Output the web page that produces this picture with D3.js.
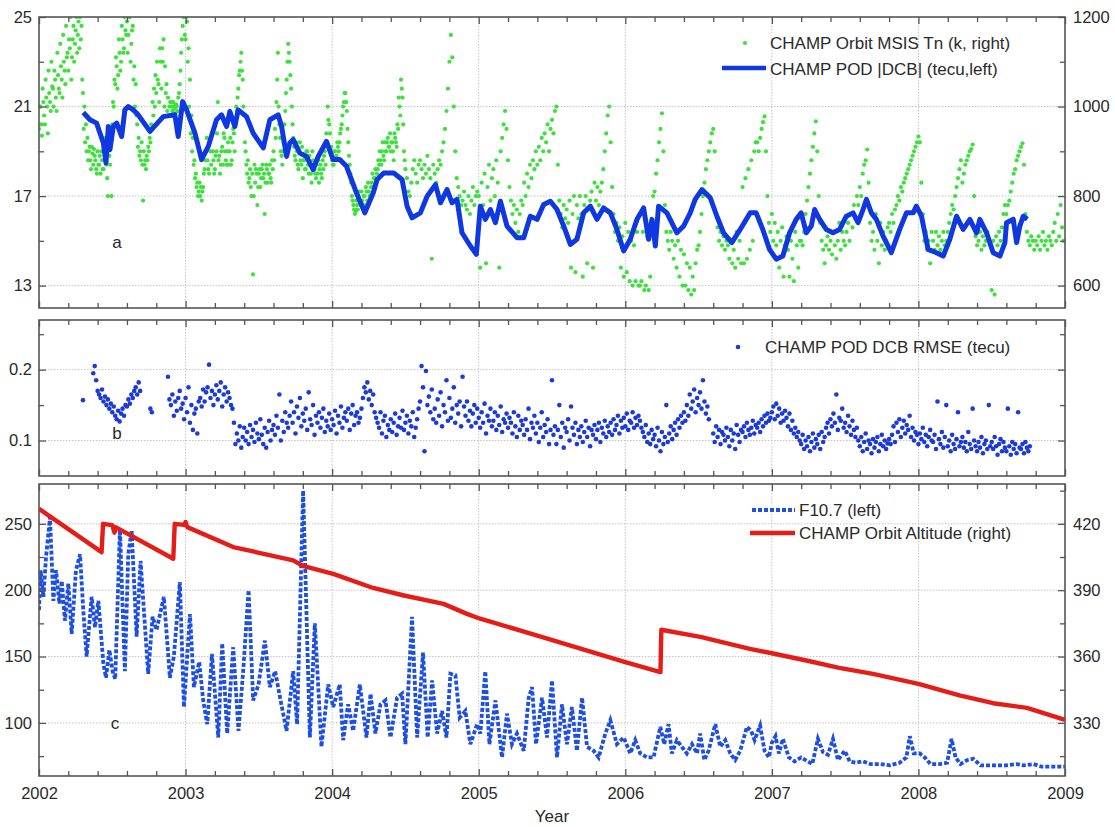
<!DOCTYPE html>
<html><head><meta charset="utf-8">
<script src="https://cdn.jsdelivr.net/npm/d3@7"></script>
<style>
body{margin:0;background:#fff;}
svg{display:block;}
text{font-family:"Liberation Sans",Arial,Helvetica,sans-serif;fill:#2a2a2a;}
</style>
</head><body>
<svg id="chart" width="1115" height="827"></svg>
<script>
// ---------------- DATA ----------------
const yearTicks = [2002, 2003, 2004, 2005, 2006, 2007, 2008, 2009];

// Panel a: CHAMP POD |DCB| (tecu, left axis) [year, value]
const dcb = [
[2002.302,20.73],[2002.348,20.41],[2002.393,20.26],[2002.416,19.81],[2002.439,19.37],[2002.457,18.48],
[2002.473,20.11],[2002.484,19.07],[2002.507,20.11],[2002.530,20.26],[2002.564,19.66],[2002.586,20.85],
[2002.609,21.0],[2002.643,20.85],[2002.677,20.63],[2002.757,19.89],[2002.848,20.55],[2002.927,20.63],
[2002.950,19.66],[2002.980,21.22],[2003.007,20.85],[2003.064,19.81],[2003.109,18.63],[2003.155,19.22],
[2003.211,20.41],[2003.245,20.63],[2003.280,20.11],[2003.302,20.78],[2003.336,20.11],[2003.359,20.85],
[2003.416,20.55],[2003.461,19.81],[2003.530,19.15],[2003.575,20.41],[2003.632,20.63],[2003.655,20.11],
[2003.689,18.77],[2003.711,19.37],[2003.734,19.52],[2003.780,18.92],[2003.825,18.77],[2003.870,18.18],
[2003.905,18.77],[2003.961,19.44],[2004.007,18.63],[2004.052,18.63],[2004.098,18.33],[2004.166,17.14],
[2004.223,16.25],[2004.280,17.14],[2004.307,17.74],[2004.352,18.03],[2004.420,18.03],[2004.477,17.74],
[2004.511,16.55],[2004.545,16.03],[2004.602,16.25],[2004.648,16.99],[2004.705,17.51],[2004.739,16.70],
[2004.784,17.29],[2004.818,16.70],[2004.852,16.85],[2004.886,15.36],[2004.943,14.77],[2004.984,14.40],
[2005.011,16.55],[2005.045,15.96],[2005.080,16.40],[2005.114,15.81],[2005.148,16.77],[2005.193,15.66],
[2005.261,15.14],[2005.307,15.14],[2005.352,16.10],[2005.398,15.96],[2005.443,16.62],[2005.489,16.77],
[2005.534,16.40],[2005.580,15.66],[2005.625,14.84],[2005.670,15.07],[2005.716,16.25],[2005.761,16.55],
[2005.807,15.96],[2005.852,16.47],[2005.898,16.25],[2005.943,15.51],[2005.989,14.55],[2006.034,15.07],
[2006.080,15.96],[2006.125,16.47],[2006.159,15.07],[2006.182,15.96],[2006.205,14.77],[2006.227,16.55],
[2006.284,16.25],[2006.352,15.36],[2006.398,15.66],[2006.443,16.25],[2006.477,16.85],[2006.523,17.29],
[2006.580,16.92],[2006.625,16.10],[2006.670,15.36],[2006.727,14.92],[2006.784,15.51],[2006.852,16.25],
[2006.893,16.25],[2006.938,15.51],[2006.984,14.62],[2007.030,14.18],[2007.075,14.32],[2007.121,15.36],
[2007.166,15.96],[2007.200,16.25],[2007.235,15.36],[2007.269,15.66],[2007.292,16.40],[2007.326,15.96],
[2007.371,15.51],[2007.417,15.36],[2007.462,15.51],[2007.508,16.10],[2007.554,16.25],[2007.588,15.81],
[2007.622,16.40],[2007.645,16.85],[2007.679,16.25],[2007.713,15.96],[2007.759,15.21],[2007.815,14.47],
[2007.872,15.51],[2007.918,16.25],[2007.964,16.25],[2007.986,16.55],[2008.021,16.10],[2008.066,14.62],
[2008.123,14.47],[2008.169,14.32],[2008.214,15.07],[2008.260,16.10],[2008.305,15.51],[2008.351,15.96],
[2008.396,15.36],[2008.419,15.96],[2008.465,15.36],[2008.510,14.47],[2008.556,14.32],[2008.590,14.92],
[2008.601,15.81],[2008.647,15.96],[2008.670,14.92],[2008.692,15.66],[2008.715,16.10],[2008.743,15.96]
];

// Panel a: CHAMP orbit MSIS Tn (K, right axis), one value every 0.01 year from 2002.00
const tnStart = 2002.0, tnStep = 0.01;
const tnK = [
950,1000,935,1010,960,1020,940,1030,990,1045, 1000,1060,990,1070,1030,1090,1020,1100,1050,1110,
1080,1130,1060,1150,1100,1170,1120,1190,1200,1180, 1030,1000,960,930,900,880,910,870,890,860,
900,870,850,880,860,900,870,800,890,920, 960,1000,1050,1090,1070,1120,1100,1150,1130,1170,
1190,1160,1200,1140,1180,1090,1050,960,930,900, 920,790,870,860,880,900,920,950,980,1000,
1030,1060,1010,1100,1130,1150,1090,1050,1020,1000, 1010,990,1000,985,1000,1020,1050,1120,1180,1200,
1150,1190,1130,1060,980,930,880,850,830,810, 800,790,820,860,900,880,850,900,940,880,
860,900,1010,890,870,910,940,900,870,920, 900,870,920,940,960,990,1040,1080,1120,1060,
980,900,850,830,860,800,625,870,860,780, 850,820,860,840,760,870,830,850,840,880,
900,950,1010,1120,960,900,870,920,990,1060, 1140,1100,1040,960,910,880,900,860,920,870,
840,880,860,900,850,870,830,880,860,840, 850,830,870,840,860,900,940,1000,960,900,
880,870,900,890,910,920,950,980,1010,1030, 990,920,870,830,790,770,765,780,800,790,
810,780,800,820,790,810,800,830,820,840, 830,860,870,880,900,890,920,900,930,910,
900,920,880,930,910,950,1000,1060,1020,900, 860,840,810,800,830,860,880,850,830,870,
880,860,840,870,850,890,860,840,660,870, 850,830,860,880,870,900,920,950,990,1040,
1100,1160,1110,1000,900,840,820,800,780,790, 810,780,770,800,760,790,820,780,800,810,
800,640,830,780,850,650,820,870,790,840, 860,800,880,830,640,900,930,960,990,950,
880,820,790,760,780,740,770,720,760,790, 780,830,800,850,820,870,840,880,860,900,
870,910,880,930,900,940,920,960,900,950, 970,940,990,1000,870,790,760,730,780,750,
770,740,790,640,760,800,630,780,750,800, 760,620,780,800,650,770,790,810,640,830,
790,820,780,810,830,860,900,940,980,1000, 920,820,760,720,740,700,730,640,710,620,
740,630,720,610,700,600,690,610,720,600, 600,610,720,590,600,710,590,620,740,800,
810,850,880,920,950,985,900,780,720,700, 680,720,700,660,690,640,700,620,680,600,
670,600,650,590,640,580,620,590,650,680, 690,720,760,800,830,860,880,900,920,940,
950,900,760,730,700,720,690,710,680,700, 690,660,700,650,680,640,720,660,700,650,
820,650,840,660,860,680,880,700,900,920, 920,900,930,950,965,978,900,800,740,720,
760,700,740,690,720,640,700,730,620,690, 710,680,620,700,660,610,720,690,640,700,
700,690,720,760,790,820,850,880,910,940, 967,900,800,740,700,680,650,690,710,680,
700,670,720,690,660,700,740,680,720,700, 690,720,740,700,760,730,780,750,800,780,
820,800,850,870,880,904,830,740,700,720, 680,760,700,650,740,690,720,680,700,730,
740,720,760,740,770,780,800,790,820,810, 830,840,850,860,870,880,890,900,910,920,
933,920,830,760,700,720,680,700,650,720, 700,680,720,690,710,680,700,720,690,700,
720,740,760,780,770,800,820,840,860,880, 830,850,870,880,890,900,905,915,800,710,
690,700,720,680,710,690,700,720,700,690, 590,700,580,710,690,720,700,730,760,780,
760,780,790,810,830,850,860,880,890,900, 910,918,870,760,720,700,690,710,700,680,
700,690,710,680,700,720,690,700,680,710, 700,690,720,740,700,760,710,780,730,700
];

// Panel a: second, denser set of MSIS Tn readings (K) in the busy 2002-2004.5 cloud, every 0.01 year from 2002.005
const tn2Start = 2002.005, tn2Step = 0.01;
const tnK2 = [
1000,960,1040,980,1060,1000,1080,1010,1100,1040, 1080,1020,1120,1040,1140,1060,1160,1080,1180,1120,
1150,1200,1110,1180,1140,1200,1160,1130,1150,1060, 950,920,900,880,910,860,895,905,880,850,
870,890,900,860,930,880,840,910,870,800, 1010,1060,1110,1040,1150,1080,1180,1120,1200,1160,
1120,1200,1100,1170,1060,1000,980,910,890,880, 870,900,880,890,910,930,960,1010,1040,1070,
1100,1050,1130,1040,1100,1000,1030,990,980,1010, 1000,1010,995,1005,990,1030,1080,1150,1200,1160,
1200,1100,1000,940,900,870,840,820,800,830, 820,810,850,880,930,860,920,870,900,850,
890,940,880,850,900,870,930,880,900,870, 930,880,950,900,1000,1020,1070,1100,1080,1000,
920,870,880,840,820,850,800,830,850,820, 860,840,870,850,830,860,850,870,830,860,
880,930,1060,1000,930,890,900,960,1030,1100, 1120,1070,1000,930,890,920,870,900,880,910,
880,860,900,870,890,850,900,870,850,870, 880,860,850,880,890,870,920,970,940,910,
870,900,880,920,900,940,960,1000,1030,1010, 950,890,850,800,780,760,790,770,810,780,
790,800,780,810,830,800,820,850,840,860, 850,880,900,870,920,880,900,920,910,940,
920,900,940,920,960,1020,980,1040,960,880
];

// Panel b: CHAMP POD DCB RMSE (tecu), one value every 0.01 year from 2002.30
const rmseStart = 2002.30, rmseStep = 0.01;
const rmse = [
.157,null,null,null,null,null,null,.195,.205,.185,
.170,.165,.160,.172,.155,.162,.150,.158,.145,.152,
.140,.148,.135,.130,.142,.127,.138,.145,.135,.150,
.148,.158,.152,.165,.160,.170,.175,.165,.182,.170,
null,null,null,null,null,null,.145,.140,null,null,
null,null,null,null,null,null,null,null,.190,.158,
.150,.165,.135,.155,.142,.160,.170,.145,.152,.130,
.160,.140,.175,.125,.150,.115,.138,.145,.110,.155,
.160,.148,.172,.155,.168,.175,.207,.160,.170,.150,
.165,.178,.158,.170,.182,.148,.165,.175,.155,.168,
.160,.150,.145,.125,.095,.110,.100,.120,.090,.105,
.118,.100,.112,.095,.122,.105,.115,.098,.125,.110,
.102,.130,.108,.095,.118,.090,.112,.128,.100,.115,
.122,.108,.135,.118,.165,.100,.128,.112,.140,.125,
.118,.135,.155,.125,.140,.110,.148,.132,.160,.120,
.138,.128,.145,.115,.168,.130,.122,.150,.108,.135,
.125,.140,.118,.132,.145,.112,.128,.120,.138,.115,
.130,.122,.142,.110,.135,.125,.148,.118,.132,.140,
.128,.145,.115,.138,.150,.122,.135,.140,.125,.132,
.145,.160,.175,.168,.182,.158,.170,.150,.165,.140,
.132,.125,.118,.140,.110,.128,.135,.105,.122,.115,
.130,.112,.125,.138,.108,.120,.132,.118,.142,.115,
.125,.135,.110,.128,.120,.140,.105,.118,.130,.145,
.155,.205,.175,.085,.198,.150,.162,.140,.172,.130,
.145,.125,.158,.135,.168,.120,.150,.140,.185,.128,
.160,.132,.145,.175,.125,.150,.138,.155,.120,.190,
.148,.135,.155,.128,.142,.120,.138,.150,.125,.145,
.132,.118,.140,.125,.152,.110,.135,.128,.145,.120,
.128,.140,.115,.135,.122,.148,.112,.130,.125,.138,
.118,.132,.125,.110,.140,.120,.105,.135,.115,.128,
.122,.108,.130,.115,.145,.102,.125,.118,.135,.110,
.125,.098,.118,.140,.105,.122,.112,.130,.095,.115,
.185,.108,.120,.095,.115,.150,.105,.125,.090,.118,
.112,.130,.100,.148,.118,.108,.125,.095,.115,.105,
.120,.098,.112,.128,.105,.118,.092,.115,.108,.122,
.102,.115,.125,.098,.118,.110,.128,.105,.120,.112,
.125,.108,.130,.115,.122,.135,.110,.128,.118,.132,
.120,.138,.115,.128,.125,.140,.118,.132,.122,.135,
.128,.118,.112,.105,.122,.098,.110,.095,.115,.102,
.108,.092,.118,.100,.085,.112,.095,.105,.150,.098,
.110,.120,.102,.115,.125,.108,.130,.118,.135,.125,
.140,.128,.150,.135,.165,.145,.155,.172,.140,.160,
.150,.168,.145,.185,.155,.138,.148,.130,null,null,
.110,.098,.120,.105,.115,.095,.112,.108,.100,.118,
.105,.092,.115,.100,.110,.088,.122,.108,.098,.115,
.112,.120,.105,.125,.115,.108,.118,.128,.110,.122,
.118,.125,.112,.130,.120,.135,.125,.138,.128,.132,
.140,.148,.130,.152,.135,.145,.125,.138,.128,.142,
.132,.120,.138,.115,.128,.110,.118,.105,.112,.100,
.095,.108,.088,.100,.092,.105,.085,.098,.110,.090,
.102,.095,.108,.088,.112,.098,.105,.118,.125,.110,
.130,.120,.138,.125,.165,.115,.132,.128,.145,.118,
.125,.112,.135,.120,.108,.128,.115,.105,.118,.100,
.092,.105,.085,.098,.110,.088,.100,.095,.082,.102,
.090,.098,.105,.085,.095,.108,.092,.100,.088,.096,
.102,.095,.108,.120,.098,.125,.112,.130,.105,.118,
.128,.110,.122,.115,.135,.105,.118,.100,.112,.108,
.095,.110,.102,.118,.098,.108,.092,.105,.115,.100,
.098,.108,.088,.155,.102,.095,.112,.090,.105,.150,
.092,.100,.085,.108,.095,.088,.102,.140,.092,.098,
.105,.090,.098,.085,.112,.095,.088,.145,.100,.092,
.085,.098,.090,.105,.082,.095,.100,.088,.150,.092,
.098,.088,.105,.092,.080,.095,.102,.085,.098,.090,
.085,.145,.092,.080,.098,.088,.095,.082,.140,.090,
.088,.095,.082,.098,.090,.085,.092
];

// Panel c: F10.7 (left axis) [year, sfu]
const f107 = [
[2002.000,185],[2002.011,215],[2002.030,195],[2002.048,225],[2002.075,255],[2002.098,192],[2002.116,215],
[2002.139,190],[2002.155,207],[2002.177,177],[2002.200,205],[2002.223,167],[2002.252,215],[2002.280,227],
[2002.302,185],[2002.325,150],[2002.359,195],[2002.382,172],[2002.405,192],[2002.439,145],[2002.457,134],
[2002.480,155],[2002.502,139],[2002.520,133],[2002.552,246],[2002.586,139],[2002.609,227],[2002.632,245],
[2002.666,165],[2002.693,222],[2002.745,137],[2002.775,180],[2002.802,170],[2002.852,195],[2002.893,134],
[2002.920,150],[2002.961,206],[2002.989,112],[2003.030,182],[2003.057,127],[2003.093,146],[2003.120,117],
[2003.148,99],[2003.180,152],[2003.223,89],[2003.250,160],[2003.284,92],[2003.325,157],[2003.361,94],
[2003.393,139],[2003.430,200],[2003.461,117],[2003.498,129],[2003.541,162],[2003.575,127],[2003.611,139],
[2003.648,117],[2003.689,94],[2003.734,139],[2003.761,99],[2003.802,275],[2003.848,89],[2003.882,175],
[2003.927,82],[2003.973,129],[2004.007,112],[2004.052,129],[2004.075,87],[2004.109,114],[2004.143,94],
[2004.189,129],[2004.234,89],[2004.262,122],[2004.295,92],[2004.330,114],[2004.364,117],[2004.398,89],
[2004.443,119],[2004.477,122],[2004.500,84],[2004.545,180],[2004.580,89],[2004.620,153],[2004.652,89],
[2004.682,132],[2004.716,92],[2004.750,109],[2004.780,89],[2004.807,137],[2004.841,136],[2004.870,104],
[2004.909,109],[2004.943,84],[2004.989,99],[2005.011,92],[2005.045,139],[2005.073,84],[2005.114,117],
[2005.159,74],[2005.193,107],[2005.227,84],[2005.261,92],[2005.307,79],[2005.341,119],[2005.364,127],
[2005.391,84],[2005.432,119],[2005.466,89],[2005.500,132],[2005.534,74],[2005.568,114],[2005.602,84],
[2005.636,112],[2005.670,79],[2005.705,119],[2005.739,82],[2005.784,79],[2005.818,74],[2005.864,92],
[2005.898,102],[2005.943,84],[2005.989,89],[2006.034,77],[2006.068,87],[2006.102,77],[2006.148,74],
[2006.193,74],[2006.239,97],[2006.266,84],[2006.295,99],[2006.318,77],[2006.352,87],[2006.386,82],
[2006.420,77],[2006.455,84],[2006.489,77],[2006.511,92],[2006.539,72],[2006.568,79],[2006.614,99],
[2006.648,82],[2006.682,87],[2006.716,77],[2006.750,72],[2006.784,79],[2006.830,97],[2006.859,94],
[2006.882,87],[2006.920,98],[2006.950,79],[2006.980,74],[2007.000,85],[2007.025,90],[2007.048,77],
[2007.075,88],[2007.116,74],[2007.155,71],[2007.200,74],[2007.246,71],[2007.276,69],[2007.314,88],
[2007.349,78],[2007.383,76],[2007.417,88],[2007.451,72],[2007.497,79],[2007.531,71],[2007.572,70],
[2007.622,71],[2007.672,69],[2007.736,69],[2007.804,68],[2007.872,70],[2007.918,74],[2007.941,90],
[2007.968,77],[2008.009,77],[2008.043,74],[2008.082,69],[2008.146,69],[2008.196,70],[2008.226,88],
[2008.253,74],[2008.287,69],[2008.333,72],[2008.374,73],[2008.424,68],[2008.510,68],[2008.601,68],
[2008.670,69],[2008.715,68],[2008.784,69],[2008.841,67],[2008.909,67],[2009.000,67]
];

// Panel c: CHAMP orbit altitude (km, right axis) [year, km]
const altitude = [
[2002.000,426.8],[2002.427,407.2],[2002.437,420.0],[2002.500,419.4],[2002.515,416.0],[2002.522,418.5],
[2002.916,404.2],[2002.926,420.0],[2002.990,419.5],[2003.000,420.8],[2003.012,418.5],[2003.325,409.5],
[2003.734,403.5],[2003.800,401.0],[2004.007,397.4],[2004.280,391.0],[2004.490,387.6],[2004.760,383.8],
[2004.920,379.3],[2005.010,377.1],[2005.400,369.5],[2005.740,362.7],[2006.000,357.5],[2006.240,353.0],
[2006.246,372.1],[2006.520,368.8],[2006.850,363.5],[2007.000,361.5],[2007.235,358.2],[2007.460,354.9],
[2007.690,352.2],[2008.000,347.6],[2008.280,342.4],[2008.510,338.9],[2008.740,336.8],[2009.000,331.4]
];

// Tick values / labels
const aLeftMajor = [13, 17, 21, 25], aLeftMinor = [15, 19, 23];
const aRightMajor = [600, 800, 1000, 1200], aRightMinor = [700, 900, 1100];
const bMajor = [0.1, 0.2], bMinor = [0.15, 0.25];
const cLeftMajor = [100, 150, 200, 250], cLeftMinor = [75, 125, 175, 225];
const cRightMajor = [330, 360, 390, 420], cRightMinor = [315, 345, 375, 405, 435];

// ---------------- LAYOUT ----------------
const svg = d3.select('#chart');
const X0 = 39, X1 = 1065;
const x = d3.scaleLinear().domain([2002, 2009]).range([X0, X1]);
const xMinor = d3.range(2002.2, 2009, 0.2).filter(v => Math.abs(v - Math.round(v)) > 0.05);

const PA = {top: 17, bottom: 308};
const PB = {top: 320, bottom: 476};
const PC = {top: 484, bottom: 776};
const yA = d3.scaleLinear().domain([12, 25]).range([PA.bottom, PA.top]);
const yAr = d3.scaleLinear().domain([550, 1200]).range([PA.bottom, PA.top]);
const yB = d3.scaleLinear().domain([0.05, 0.27]).range([PB.bottom, PB.top]);
const yC = d3.scaleLinear().domain([60, 280]).range([PC.bottom, PC.top]);
const yCr = d3.scaleLinear().domain([306, 438]).range([PC.bottom, PC.top]);

const FS = '16.5px';
const frameCol = '#555';
const gridCol = '#c4c4c4';

function grid(P, yScale, vals) {
  const g = svg.append('g');
  g.selectAll('line.v').data(yearTicks.slice(1, -1)).join('line')
    .attr('x1', d => x(d)).attr('x2', d => x(d)).attr('y1', P.top).attr('y2', P.bottom)
    .attr('stroke', gridCol).attr('stroke-width', 1).attr('stroke-dasharray', '1.5,1.5');
  g.selectAll('line.h').data(vals).join('line')
    .attr('x1', X0).attr('x2', X1).attr('y1', d => yScale(d)).attr('y2', d => yScale(d))
    .attr('stroke', gridCol).attr('stroke-width', 1).attr('stroke-dasharray', '1.5,1.5');
}

function clip(id, P) {
  svg.append('clipPath').attr('id', id).append('rect')
    .attr('x', X0).attr('y', P.top).attr('width', X1 - X0).attr('height', P.bottom - P.top);
}

function styleAxis(g) {
  g.select('.domain').remove();
  g.selectAll('.tick line').attr('stroke', frameCol).attr('stroke-width', 1.3);
  g.selectAll('.tick text').attr('font-size', FS).attr('fill', '#2a2a2a')
    .attr('font-family', '"Liberation Sans",Arial,sans-serif');
}

function axes(P, yL, lMaj, lMin, yR, rMaj, rMin, showLeftLabels, showRightLabels, showXLabels) {
  const g = svg.append('g');
  g.append('g').attr('transform', `translate(0,${P.bottom})`)
    .call(d3.axisBottom(x).tickValues(yearTicks).tickSize(-7).tickPadding(11)
      .tickFormat(showXLabels ? d3.format('d') : ''))
    .call(styleAxis);
  g.append('g').attr('transform', `translate(0,${P.bottom})`)
    .call(d3.axisBottom(x).tickValues(xMinor).tickSize(-5).tickFormat('')).call(styleAxis);
  g.append('g').attr('transform', `translate(0,${P.top})`)
    .call(d3.axisTop(x).tickValues(yearTicks).tickSize(-7).tickFormat('')).call(styleAxis);
  g.append('g').attr('transform', `translate(0,${P.top})`)
    .call(d3.axisTop(x).tickValues(xMinor).tickSize(-5).tickFormat('')).call(styleAxis);
  g.append('g').attr('transform', `translate(${X0},0)`)
    .call(d3.axisLeft(yL).tickValues(lMaj).tickSize(-7).tickPadding(7)
      .tickFormat(showLeftLabels ? (d => String(d)) : ''))
    .call(styleAxis);
  g.append('g').attr('transform', `translate(${X0},0)`)
    .call(d3.axisLeft(yL).tickValues(lMin).tickSize(-5).tickFormat('')).call(styleAxis);
  g.append('g').attr('transform', `translate(${X1},0)`)
    .call(d3.axisRight(yR).tickValues(rMaj).tickSize(-7).tickPadding(8)
      .tickFormat(showRightLabels ? (d => String(d)) : ''))
    .call(styleAxis);
  g.append('g').attr('transform', `translate(${X1},0)`)
    .call(d3.axisRight(yR).tickValues(rMin).tickSize(-5).tickFormat('')).call(styleAxis);
  g.append('rect').attr('x', X0).attr('y', P.top).attr('width', X1 - X0).attr('height', P.bottom - P.top)
    .attr('fill', 'none').attr('stroke', frameCol).attr('stroke-width', 1.6);
}

const green = '#3ee03e';
const blueLine = '#1038e0';
const blueDot = '#1c3ad8';
const blueDash = '#1f4fe0';
const red = '#e41d18';

// ---------------- PANEL A ----------------
grid(PA, yA, [13, 17, 21]);
clip('clipA', PA);
const gA = svg.append('g').attr('clip-path', 'url(#clipA)');
const tnPts = tnK.map((v, i) => [tnStart + i * tnStep, v])
  .concat(tnK2.map((v, i) => [tn2Start + i * tn2Step, v]));
gA.selectAll('circle').data(tnPts).join('circle')
  .attr('cx', d => x(d[0]))
  .attr('cy', d => yAr(d[1]))
  .attr('r', 2.1)
  .attr('fill', green);
gA.append('path').datum(dcb)
  .attr('d', d3.line().x(d => x(d[0])).y(d => yA(d[1])))
  .attr('fill', 'none').attr('stroke', blueLine).attr('stroke-width', 5)
  .attr('stroke-linejoin', 'round');
axes(PA, yA, aLeftMajor, aLeftMinor, yAr, aRightMajor, aRightMinor, true, true, false);

// ---------------- PANEL B ----------------
grid(PB, yB, [0.1, 0.2]);
clip('clipB', PB);
const gB = svg.append('g').attr('clip-path', 'url(#clipB)');
const rmsePts = rmse.map((v, i) => [rmseStart + i * rmseStep, v]).filter(d => d[1] !== null);
gB.selectAll('circle').data(rmsePts).join('circle')
  .attr('cx', d => x(d[0])).attr('cy', d => yB(d[1])).attr('r', 2.3).attr('fill', blueDot);
axes(PB, yB, bMajor, bMinor, yB, bMajor, bMinor, true, false, false);

// ---------------- PANEL C ----------------
grid(PC, yC, [100, 150, 200, 250]);
clip('clipC', PC);
const gC = svg.append('g').attr('clip-path', 'url(#clipC)');
gC.append('path').datum(f107)
  .attr('d', d3.line().x(d => x(d[0])).y(d => yC(d[1])))
  .attr('fill', 'none').attr('stroke', blueDash).attr('stroke-width', 3.8)
  .attr('stroke-dasharray', '4,2');
gC.append('path').datum(altitude)
  .attr('d', d3.line().x(d => x(d[0])).y(d => yCr(d[1])))
  .attr('fill', 'none').attr('stroke', red).attr('stroke-width', 4.4)
  .attr('stroke-linejoin', 'round');
axes(PC, yC, cLeftMajor, cLeftMinor, yCr, cRightMajor, cRightMinor, true, true, true);

// ---------------- LABELS & LEGENDS ----------------
const LFS = '17px';
function txt(xp, yp, s, size, anchor) {
  svg.append('text').attr('x', xp).attr('y', yp).attr('font-size', size || LFS)
    .attr('text-anchor', anchor || 'start').attr('dominant-baseline', 'central').text(s);
}
svg.append('circle').attr('cx', 745).attr('cy', 43).attr('r', 2.1).attr('fill', green);
txt(770, 43, 'CHAMP Orbit MSIS Tn (k, right)');
svg.append('line').attr('x1', 722).attr('x2', 766).attr('y1', 68).attr('y2', 68)
  .attr('stroke', blueLine).attr('stroke-width', 4.6);
txt(770, 69, 'CHAMP POD |DCB| (tecu,left)');
svg.append('circle').attr('cx', 738).attr('cy', 347).attr('r', 2.3).attr('fill', blueDot);
txt(765, 347, 'CHAMP POD DCB RMSE (tecu)');
svg.append('line').attr('x1', 752).attr('x2', 795).attr('y1', 510).attr('y2', 510)
  .attr('stroke', blueDash).attr('stroke-width', 3.8).attr('stroke-dasharray', '4,2');
txt(799, 510, 'F10.7 (left)');
svg.append('line').attr('x1', 750).attr('x2', 795).attr('y1', 533).attr('y2', 533)
  .attr('stroke', red).attr('stroke-width', 4.4);
txt(799, 533, 'CHAMP Orbit Altitude (right)');

txt(117, 242, 'a', '17px', 'middle');
txt(117, 433, 'b', '17px', 'middle');
txt(115, 723, 'c', '17px', 'middle');
txt(552, 816, 'Year', '17px', 'middle');
</script>
</body></html>
